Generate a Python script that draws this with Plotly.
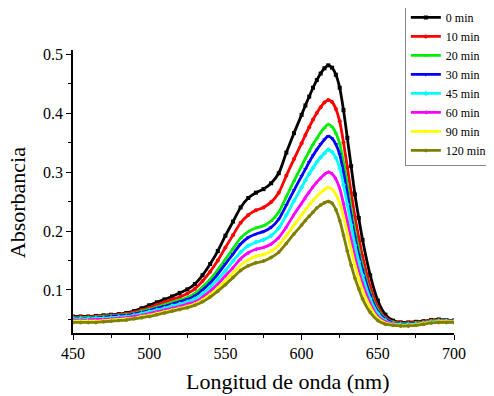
import plotly.graph_objects as go

wavelength = (list(range(450, 600, 5))
              + [600, 602.5, 605, 607.5, 610, 612.5, 615, 617.5, 620,
                 622.5, 625, 627.5, 630, 632.5, 635, 637.5, 640]
              + list(range(645, 701, 5)))

labels = ["0 min", "10 min", "20 min", "30 min", "45 min", "60 min", "90 min", "120 min"]

abs_0 = [.055, .055, .055, .056, .057, .058, .059, .061, .064, .069,
         .074, .079, .084, .089, .095, .101, .110, .125, .144, .166,
         .192, .216, .240, .256, .265, .271, .281, .298, .333, .366,
         .397, .413, .428, .443, .456, .467, .476, .481, .477,
         .465, .443, .405, .358, .310, .262, .222, .185,
         .125, .082, .058, .048, .045, .045, .046, .047, .049, .050, .049, .048]
abs_10 = [.054, .054, .054, .055, .056, .057, .058, .060, .062, .066,
          .070, .075, .079, .084, .088, .094, .102, .115, .131, .150,
          .172, .193, .214, .227, .235, .240, .249, .265, .294, .322,
          .349, .363, .376, .389, .400, .410, .418, .422, .419,
          .407, .386, .350, .308, .265, .224, .189, .157,
          .106, .071, .053, .046, .044, .044, .045, .046, .048, .049, .049, .048]
abs_20 = [.053, .053, .053, .054, .055, .056, .057, .058, .060, .064,
          .067, .071, .075, .079, .083, .087, .094, .105, .118, .134,
          .152, .170, .188, .199, .205, .209, .217, .232, .258, .285,
          .310, .323, .335, .347, .357, .367, .375, .381, .377,
          .366, .348, .316, .278, .238, .200, .168, .140,
          .095, .066, .051, .045, .043, .043, .044, .045, .047, .048, .048, .047]
abs_30 = [.052, .052, .052, .053, .054, .055, .056, .057, .059, .062,
          .065, .069, .072, .076, .080, .084, .090, .100, .112, .127,
          .144, .161, .178, .189, .195, .199, .206, .220, .244, .269,
          .293, .305, .317, .328, .338, .347, .355, .361, .357,
          .347, .330, .299, .263, .225, .189, .159, .133,
          .091, .063, .050, .044, .042, .042, .043, .044, .046, .047, .047, .047]
abs_45 = [.051, .051, .051, .052, .052, .053, .054, .055, .057, .060,
          .063, .066, .069, .073, .076, .080, .085, .094, .105, .118,
          .133, .149, .164, .175, .181, .185, .192, .205, .227, .251,
          .274, .286, .297, .307, .317, .325, .332, .338, .334,
          .324, .307, .278, .245, .210, .176, .148, .124,
          .085, .060, .048, .043, .041, .041, .042, .044, .046, .047, .047, .046]
abs_60 = [.049, .049, .049, .050, .050, .051, .052, .053, .055, .057,
          .060, .063, .066, .069, .072, .076, .080, .088, .098, .110,
          .124, .138, .153, .163, .169, .172, .178, .189, .207, .228,
          .247, .257, .266, .275, .283, .290, .296, .300, .297,
          .288, .272, .246, .216, .185, .156, .131, .110,
          .077, .055, .046, .042, .040, .040, .041, .043, .045, .046, .046, .046]
abs_90 = [.047, .047, .047, .047, .048, .049, .050, .051, .052, .055,
          .057, .060, .063, .066, .069, .072, .076, .083, .092, .103,
          .116, .129, .142, .151, .157, .160, .166, .176, .192, .210,
          .227, .236, .244, .252, .259, .265, .270, .274, .271,
          .262, .248, .224, .197, .169, .142, .120, .100,
          .071, .052, .044, .041, .040, .040, .041, .043, .045, .046, .046, .046]
abs_120 = [.045, .045, .045, .045, .046, .047, .048, .049, .051, .053,
           .055, .058, .061, .064, .067, .070, .074, .080, .088, .098,
           .109, .121, .133, .141, .146, .149, .155, .164, .179, .195,
           .210, .218, .225, .232, .239, .244, .248, .250, .247,
           .236, .218, .193, .166, .142, .120, .102, .085,
           .062, .048, .042, .040, .039, .039, .040, .042, .044, .045, .045, .045]

series = [abs_0, abs_10, abs_20, abs_30, abs_45, abs_60, abs_90, abs_120]
colors = ["#000000", "#ff0000", "#00ee00", "#0000ff", "#00ffff", "#ff00ff", "#ffff00", "#808000"]
symbols = ["square", "circle", "triangle-up", "triangle-down", "diamond",
           "triangle-left", "triangle-right", "hexagon"]

FONT = "Liberation Serif"

fig = go.Figure()
for lab, ys, c, s in zip(labels, series, colors, symbols):
    fig.add_trace(go.Scatter(
        x=wavelength, y=ys, name=lab, mode="lines+markers",
        line=dict(color=c, width=2.8, shape="spline", smoothing=0.8),
        marker=dict(color=c, size=4, symbol=s),
    ))

# the page body adds an 8 px offset, so the figure is sized to the visible window
fig.update_layout(
    width=486, height=388,
    margin=dict(l=65, r=40, t=42, b=63, autoexpand=False),
    paper_bgcolor="white", plot_bgcolor="white",
    font=dict(family=FONT, size=16, color="black"),
    showlegend=True,
    legend=dict(
        x=0.871, y=1.17, xanchor="left", yanchor="top",
        bgcolor="white", bordercolor="#888888", borderwidth=1,
        font=dict(family=FONT, size=12, color="black"),
        tracegroupgap=0, itemwidth=30,
    ),
    xaxis=dict(
        range=[450, 700], tick0=450, dtick=50,
        showline=True, linecolor="black", linewidth=1.5,
        ticks="outside", ticklen=5, tickcolor="black", tickwidth=1.2,
        minor=dict(dtick=25, ticks="outside", ticklen=3, tickcolor="black"),
        showgrid=False, zeroline=False,
        tickfont=dict(family=FONT, size=16),
    ),
    yaxis=dict(
        range=[0.027, 0.507], tick0=0, dtick=0.1,
        showline=True, linecolor="black", linewidth=1.5,
        ticks="outside", ticklen=5, tickcolor="black", tickwidth=1.2,
        minor=dict(dtick=0.05, ticks="outside", ticklen=3, tickcolor="black"),
        showgrid=False, zeroline=False,
        tickfont=dict(family=FONT, size=16),
    ),
    annotations=[
        dict(text="Longitud de onda (nm)", xref="paper", yref="paper",
             x=0.562, y=-0.17, xanchor="center", yanchor="middle",
             showarrow=False, font=dict(family=FONT, size=22)),
        dict(text="Absorbancia", xref="paper", yref="paper",
             x=-0.146, y=0.46, xanchor="center", yanchor="middle",
             textangle=-90, showarrow=False, font=dict(family=FONT, size=22)),
    ],
)

fig.write_html("out.html")
